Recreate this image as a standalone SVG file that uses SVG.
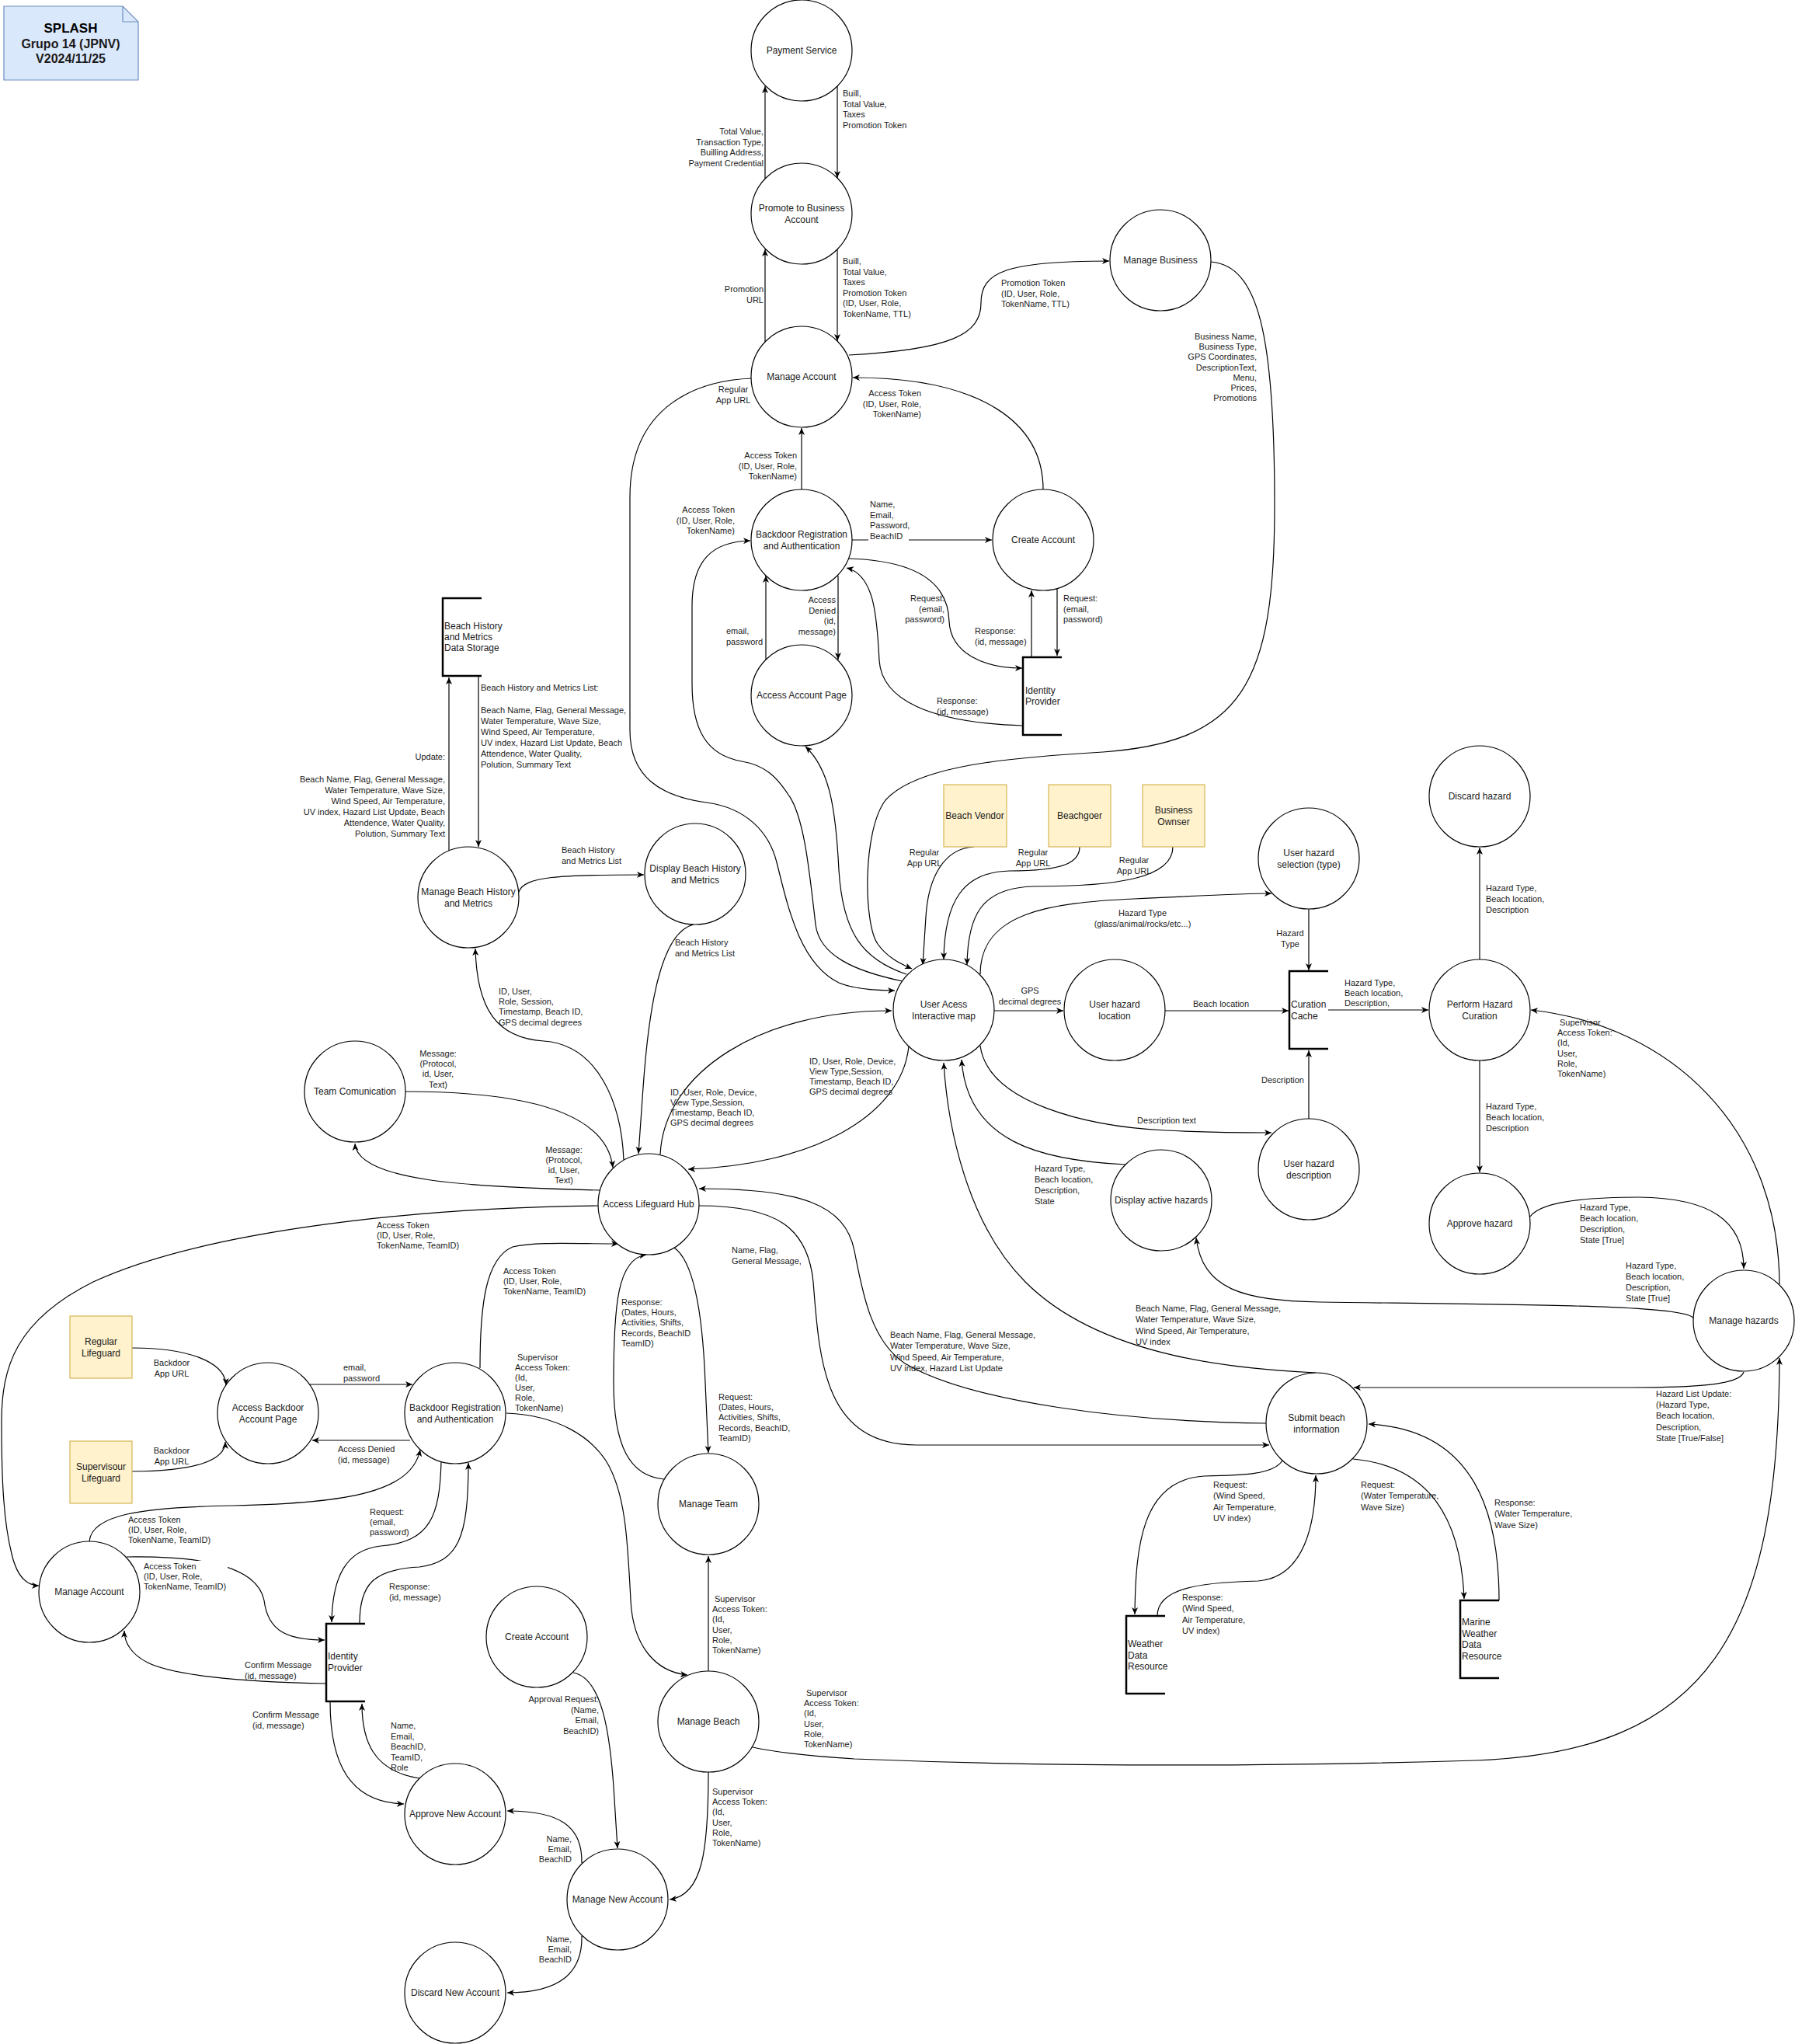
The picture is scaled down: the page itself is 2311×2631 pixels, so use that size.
<svg xmlns="http://www.w3.org/2000/svg" width="2311" height="2631" viewBox="0 0 2311 2631">
<defs>
<marker id="arr" markerWidth="10" markerHeight="10" refX="9" refY="5" orient="auto" markerUnits="userSpaceOnUse"><path d="M0,1 L9,5 L0,9 L2.5,5 z" fill="#000"/></marker>
<style>
.n circle{fill:#fff;stroke:#000;stroke-width:1.2}
.n text,.a text,.s text{font-family:"Liberation Sans",Arial,sans-serif;font-size:12px;fill:#1a1a1a}
.n text{text-anchor:middle}
.a rect{fill:#fff2cc;stroke:#d6b656;stroke-width:1.2}
.a text{text-anchor:middle}
.s path{fill:none;stroke:#000;stroke-width:2.5}
.e path{fill:none;stroke:#000;stroke-width:1.2}
.e path.ar{marker-end:url(#arr)}
.l text{font-family:"Liberation Sans",Arial,sans-serif;font-size:11px;fill:#1a1a1a}
.l text.m{text-anchor:middle}
.l text.r{text-anchor:end}
.bg{fill:#fff}
</style>
</defs>
<rect width="2311" height="2631" fill="#fff"/>

<g id="note">
<path d="M5,8 L158,8 L178,28 L178,103 L5,103 Z" fill="#dae8fc" stroke="#6c8ebf" stroke-width="1.2"/>
<path d="M158,8 L158,28 L178,28" fill="none" stroke="#6c8ebf" stroke-width="1.2"/>
<text x="91" y="42" text-anchor="middle" font-family="Liberation Sans,Arial,sans-serif" font-size="17" font-weight="bold" fill="#000">SPLASH</text>
<text x="91" y="62" text-anchor="middle" font-family="Liberation Sans,Arial,sans-serif" font-size="16" font-weight="bold" fill="#1a1a1a">Grupo 14 (JPNV)</text>
<text x="91" y="81" text-anchor="middle" font-family="Liberation Sans,Arial,sans-serif" font-size="16" font-weight="bold" fill="#1a1a1a">V2024/11/25</text>
</g>

<g id="connectors" class="e">
<path class="ar" d="M985,230 L985,111"/>
<path class="ar" d="M1078,110 L1078,229"/>
<path class="ar" d="M985,440 L985,321"/>
<path class="ar" d="M1078,321 L1078,439"/>
<path class="ar" d="M1093,457 C1225,450 1263,430 1263,390 C1263,350 1295,336 1428,336"/>
<path class="ar" d="M1559,337 C1620,342 1641,430 1641,650 C1641,880 1600,955 1420,968 C1300,975 1180,985 1140,1030 C1110,1070 1112,1190 1130,1215 C1142,1232 1158,1240 1174,1247"/>
<path class="ar" d="M967,487 C900,490 811,520 811,640 L811,940 C811,1000 850,1025 910,1033 C960,1040 990,1070 1000,1110 C1015,1170 1030,1240 1080,1265 C1100,1273 1130,1275 1152,1275"/>
<path class="ar" d="M1167,1254 C1110,1235 1085,1200 1080,1120 C1076,1040 1068,990 1037,961"/>
<path class="ar" d="M1162,1263 C1100,1250 1055,1230 1050,1190 C1042,1120 1035,1050 1015,1023 C1000,1000 985,985 955,980 C910,972 891,940 891,880 L891,780 C891,720 918,697 966,696"/>
<path class="ar" d="M1032,630 L1032,551"/>
<path class="ar" d="M1343,630 C1343,545 1265,486 1098,486"/>
<path class="ar" d="M1097,695 L1277,695"/>
<path class="ar" d="M1079,741 L1079,849"/>
<path class="ar" d="M986,850 L986,741"/>
<path class="ar" d="M1093,719 C1195,722 1221,760 1222,800 C1224,840 1265,860 1316,860"/>
<path class="ar" d="M1317,934 C1195,930 1135,900 1132,850 C1129,790 1125,740 1090,731"/>
<path class="ar" d="M1361,758 L1361,844"/>
<path class="ar" d="M1328,845 L1328,760"/>
<path class="ar" d="M578,1095 L578,872"/>
<path class="ar" d="M616,870 L616,1090"/>
<path class="ar" d="M668,1148 C675,1128 720,1126 829,1126"/>
<path class="ar" d="M893,1190 C850,1200 835,1300 828,1400 L822,1485"/>
<path class="ar" d="M803,1493 C800,1420 770,1345 700,1340 C640,1336 614,1300 612,1221"/>
<path class="ar" d="M1254,1090 C1215,1092 1195,1130 1192,1180 L1188,1242"/>
<path class="ar" d="M1390,1090 C1390,1110 1370,1121 1300,1121 C1240,1122 1216,1160 1215,1235"/>
<path class="ar" d="M1510,1090 C1510,1130 1440,1141 1330,1141 C1262,1143 1246,1180 1245,1242"/>
<path class="ar" d="M1262,1254 C1262,1175 1350,1162 1460,1157 C1540,1153 1600,1150 1637,1150"/>
<path class="ar" d="M1280,1301 L1369,1301"/>
<path class="ar" d="M1500,1301 L1659,1301"/>
<path class="ar" d="M1685,1170 L1685,1249"/>
<path class="ar" d="M1685,1440 L1685,1352"/>
<path class="ar" d="M1262,1346 C1272,1420 1400,1450 1500,1455 C1560,1458 1600,1458 1637,1458"/>
<path class="ar" d="M1450,1499 C1340,1494 1245,1470 1238,1364"/>
<path class="ar" d="M2181,1697 C2170,1680 2000,1680 1700,1676 C1600,1674 1548,1660 1540,1593"/>
<path class="ar" d="M1710,1300 L1839,1300"/>
<path class="ar" d="M1905,1235 L1905,1091"/>
<path class="ar" d="M1905,1365 L1905,1509"/>
<path class="ar" d="M1970,1566 C1985,1545 2050,1541 2110,1541 C2200,1542 2245,1570 2245,1633"/>
<path class="ar" d="M2291,1653 C2290,1450 2150,1320 1971,1300"/>
<path class="ar" d="M2245,1766 C2240,1783 2180,1786 2100,1786 L1743,1786"/>
<path class="ar" d="M969,2249 C1000,2256 1040,2260 1100,2264 C1400,2276 1700,2272 1900,2266 C2200,2255 2290,2100 2291,1748"/>
<path class="ar" d="M1694,1767 C1600,1762 1420,1750 1320,1650 C1245,1575 1220,1450 1215,1368"/>
<path class="ar" d="M1630,1832 C1450,1830 1250,1805 1165,1755 C1120,1725 1110,1660 1100,1610 C1088,1550 1030,1530 900,1530"/>
<path class="ar" d="M900,1552 C1000,1552 1040,1580 1047,1650 C1055,1750 1060,1860 1180,1860 L1634,1860"/>
<path class="ar" d="M1651,1880 C1640,1898 1600,1899 1550,1900 C1470,1905 1462,1990 1461,2078"/>
<path class="ar" d="M1490,2080 C1490,2040 1560,2037 1620,2035 C1680,2030 1694,1960 1694,1899"/>
<path class="ar" d="M1742,1878 C1820,1885 1880,1930 1885,2058"/>
<path class="ar" d="M1930,2060 C1930,1950 1900,1840 1762,1833"/>
<path class="ar" d="M522,1405 C640,1405 780,1420 789,1503"/>
<path class="ar" d="M772,1532 C600,1528 460,1520 457,1472"/>
<path class="ar" d="M1170,1347 C1160,1440 1040,1500 886,1505"/>
<path class="ar" d="M850,1486 C855,1380 980,1300 1148,1301"/>
<path class="ar" d="M770,1552 C500,1555 250,1590 120,1650 C20,1700 2,1760 2,1830 C2,1910 5,1960 15,2000 C22,2030 35,2041 50,2041"/>
<path class="ar" d="M618,1761 C618,1680 625,1620 660,1605 C690,1598 740,1601 796,1601"/>
<path class="ar" d="M868,1606 C895,1625 905,1700 908,1780 L912,1870"/>
<path class="ar" d="M855,1904 C810,1900 790,1860 790,1780 C790,1680 795,1620 832,1615"/>
<path class="ar" d="M912,2151 L912,2003"/>
<path class="ar" d="M652,1819 C720,1822 760,1850 780,1880 C805,1920 808,1980 812,2060 C815,2120 845,2152 885,2156"/>
<path class="ar" d="M912,2281 C912,2380 905,2440 862,2445"/>
<path class="ar" d="M738,2153 C775,2160 785,2230 790,2300 L795,2379"/>
<path class="ar" d="M749,2398 C750,2350 720,2331 653,2331"/>
<path class="ar" d="M749,2492 C750,2540 720,2565 653,2565"/>
<path class="ar" d="M540,2289 C480,2280 466,2240 466,2193"/>
<path class="ar" d="M425,2190 C425,2270 450,2320 520,2322"/>
<path class="ar" d="M420,2167 C300,2165 220,2155 190,2140 C170,2130 160,2115 160,2099"/>
<path class="ar" d="M163,2004 C240,2003 330,2010 340,2060 C345,2100 370,2111 418,2111"/>
<path class="ar" d="M115,1984 C118,1950 180,1940 300,1938 C450,1935 530,1920 541,1866"/>
<path class="ar" d="M568,1882 C566,1950 555,1985 490,1990 C445,1995 428,2030 427,2088"/>
<path class="ar" d="M463,2089 C463,2040 480,2020 540,2017 C590,2010 603,1980 603,1883"/>
<path class="ar" d="M398,1782 L531,1782"/>
<path class="ar" d="M528,1854 L402,1854"/>
<path class="ar" d="M170,1735 C240,1735 290,1752 291,1783"/>
<path class="ar" d="M170,1894 C250,1894 290,1880 290,1856"/>
</g>

<g id="labels" class="l">
<text class="r" x="983" y="173"><tspan x="983">Total Value,</tspan><tspan x="983" dy="13.5">Transaction Type,</tspan><tspan x="983" dy="13.5">Builling Address,</tspan><tspan x="983" dy="13.5">Payment Credential</tspan></text>
<text x="1085" y="124"><tspan x="1085">Buill,</tspan><tspan x="1085" dy="13.5">Total Value,</tspan><tspan x="1085" dy="13.5">Taxes</tspan><tspan x="1085" dy="13.5">Promotion Token</tspan></text>
<text class="r" x="983" y="376"><tspan x="983">Promotion</tspan><tspan x="983" dy="13.5">URL</tspan></text>
<text x="1085" y="340"><tspan x="1085">Buill,</tspan><tspan x="1085" dy="13.5">Total Value,</tspan><tspan x="1085" dy="13.5">Taxes</tspan><tspan x="1085" dy="13.5">Promotion Token</tspan><tspan x="1085" dy="13.5">(ID, User, Role,</tspan><tspan x="1085" dy="13.5">TokenName, TTL)</tspan></text>
<text x="1289" y="368"><tspan x="1289">Promotion Token</tspan><tspan x="1289" dy="13.5">(ID, User, Role,</tspan><tspan x="1289" dy="13.5">TokenName, TTL)</tspan></text>
<text class="r" x="1618" y="437"><tspan x="1618">Business Name,</tspan><tspan x="1618" dy="13.2">Business Type,</tspan><tspan x="1618" dy="13.2">GPS Coordinates,</tspan><tspan x="1618" dy="13.2">DescriptionText,</tspan><tspan x="1618" dy="13.2">Menu,</tspan><tspan x="1618" dy="13.2">Prices,</tspan><tspan x="1618" dy="13.2">Promotions</tspan></text>
<text class="m" x="944" y="505"><tspan x="944">Regular</tspan><tspan x="944" dy="13.5">App URL</tspan></text>
<text class="r" x="1186" y="510"><tspan x="1186">Access Token</tspan><tspan x="1186" dy="13.5">(ID, User, Role,</tspan><tspan x="1186" dy="13.5">TokenName)</tspan></text>
<text class="r" x="1026" y="590"><tspan x="1026">Access Token</tspan><tspan x="1026" dy="13.5">(ID, User, Role,</tspan><tspan x="1026" dy="13.5">TokenName)</tspan></text>
<text class="r" x="946" y="660"><tspan x="946">Access Token</tspan><tspan x="946" dy="13.5">(ID, User, Role,</tspan><tspan x="946" dy="13.5">TokenName)</tspan></text>
<rect class="bg" x="1118" y="642" width="52" height="56"/>
<text x="1120" y="653"><tspan x="1120">Name,</tspan><tspan x="1120" dy="13.5">Email,</tspan><tspan x="1120" dy="13.5">Password,</tspan><tspan x="1120" dy="13.5">BeachID</tspan></text>
<text class="r" x="1076" y="776"><tspan x="1076">Access</tspan><tspan x="1076" dy="13.5">Denied</tspan><tspan x="1076" dy="13.5">(id,</tspan><tspan x="1076" dy="13.5">message)</tspan></text>
<text x="935" y="816"><tspan x="935">email,</tspan><tspan x="935" dy="13.5">password</tspan></text>
<text class="r" x="1216" y="774"><tspan x="1216">Request:</tspan><tspan x="1216" dy="13.5">(email,</tspan><tspan x="1216" dy="13.5">password)</tspan></text>
<text x="1206" y="906"><tspan x="1206">Response:</tspan><tspan x="1206" dy="13.5">(id, message)</tspan></text>
<text x="1369" y="774"><tspan x="1369">Request:</tspan><tspan x="1369" dy="13.5">(email,</tspan><tspan x="1369" dy="13.5">password)</tspan></text>
<text x="1255" y="816"><tspan x="1255">Response:</tspan><tspan x="1255" dy="13.5">(id, message)</tspan></text>
<text class="r" x="573" y="978">Update:</text>
<text class="r" x="573" y="1007"><tspan x="573">Beach Name, Flag, General Message,</tspan><tspan x="573" dy="14">Water Temperature, Wave Size,</tspan><tspan x="573" dy="14">Wind Speed, Air Temperature,</tspan><tspan x="573" dy="14">UV index, Hazard List Update, Beach</tspan><tspan x="573" dy="14">Attendence, Water Quality,</tspan><tspan x="573" dy="14">Polution, Summary Text</tspan></text>
<text x="619" y="889"><tspan x="619">Beach History and Metrics List:</tspan><tspan x="619" dy="29">Beach Name, Flag, General Message,</tspan><tspan x="619" dy="14">Water Temperature, Wave Size,</tspan><tspan x="619" dy="14">Wind Speed, Air Temperature,</tspan><tspan x="619" dy="14">UV index, Hazard List Update, Beach</tspan><tspan x="619" dy="14">Attendence, Water Quality,</tspan><tspan x="619" dy="14">Polution, Summary Text</tspan></text>
<text x="723" y="1098"><tspan x="723">Beach History</tspan><tspan x="723" dy="14">and Metrics List</tspan></text>
<text x="869" y="1217"><tspan x="869">Beach History</tspan><tspan x="869" dy="14">and Metrics List</tspan></text>
<text x="642" y="1280"><tspan x="642">ID, User,</tspan><tspan x="642" dy="13.2">Role, Session,</tspan><tspan x="642" dy="13.2">Timestamp, Beach ID,</tspan><tspan x="642" dy="13.2">GPS decimal degrees</tspan></text>
<text class="m" x="1190" y="1101"><tspan x="1190">Regular</tspan><tspan x="1190" dy="14">App URL</tspan></text>
<text class="m" x="1330" y="1101"><tspan x="1330">Regular</tspan><tspan x="1330" dy="14">App URL</tspan></text>
<text class="m" x="1460" y="1111"><tspan x="1460">Regular</tspan><tspan x="1460" dy="14">App URL</tspan></text>
<text class="m" x="1471" y="1179"><tspan x="1471">Hazard Type</tspan><tspan x="1471" dy="14">(glass/animal/rocks/etc...)</tspan></text>
<text class="m" x="1326" y="1279"><tspan x="1326">GPS</tspan><tspan x="1326" dy="14">decimal degrees</tspan></text>
<text class="m" x="1572" y="1296">Beach location</text>
<text class="m" x="1661" y="1205"><tspan x="1661">Hazard</tspan><tspan x="1661" dy="14">Type</tspan></text>
<text class="r" x="1679" y="1394">Description</text>
<text class="m" x="1502" y="1446">Description text</text>
<text x="1332" y="1508"><tspan x="1332">Hazard Type,</tspan><tspan x="1332" dy="14">Beach location,</tspan><tspan x="1332" dy="14">Description,</tspan><tspan x="1332" dy="14">State</tspan></text>
<text x="1731" y="1269"><tspan x="1731">Hazard Type,</tspan><tspan x="1731" dy="13">Beach location,</tspan><tspan x="1731" dy="13">Description,</tspan></text>
<text x="1913" y="1147"><tspan x="1913">Hazard Type,</tspan><tspan x="1913" dy="14">Beach location,</tspan><tspan x="1913" dy="14">Description</tspan></text>
<text x="1913" y="1428"><tspan x="1913">Hazard Type,</tspan><tspan x="1913" dy="14">Beach location,</tspan><tspan x="1913" dy="14">Description</tspan></text>
<text x="2034" y="1558"><tspan x="2034">Hazard Type,</tspan><tspan x="2034" dy="14">Beach location,</tspan><tspan x="2034" dy="14">Description,</tspan><tspan x="2034" dy="14">State [True]</tspan></text>
<text x="2093" y="1633"><tspan x="2093">Hazard Type,</tspan><tspan x="2093" dy="14">Beach location,</tspan><tspan x="2093" dy="14">Description,</tspan><tspan x="2093" dy="14">State [True]</tspan></text>
<text x="2005" y="1320"><tspan x="2008">Supervisor</tspan><tspan x="2005" dy="13.2">Access Token:</tspan><tspan x="2005" dy="13.2">(Id,</tspan><tspan x="2005" dy="13.2">User,</tspan><tspan x="2005" dy="13.2">Role,</tspan><tspan x="2005" dy="13.2">TokenName)</tspan></text>
<rect class="bg" x="2130" y="1788" width="100" height="72"/>
<text x="2132" y="1798"><tspan x="2132">Hazard List Update:</tspan><tspan x="2132" dy="14.2">(Hazard Type,</tspan><tspan x="2132" dy="14.2">Beach location,</tspan><tspan x="2132" dy="14.2">Description,</tspan><tspan x="2132" dy="14.2">State [True/False]</tspan></text>
<text x="1035" y="2183"><tspan x="1038">Supervisor</tspan><tspan x="1035" dy="13.2">Access Token:</tspan><tspan x="1035" dy="13.2">(Id,</tspan><tspan x="1035" dy="13.2">User,</tspan><tspan x="1035" dy="13.2">Role,</tspan><tspan x="1035" dy="13.2">TokenName)</tspan></text>
<text x="1462" y="1688"><tspan x="1462">Beach Name, Flag, General Message,</tspan><tspan x="1462" dy="14.3">Water Temperature, Wave Size,</tspan><tspan x="1462" dy="14.3">Wind Speed, Air Temperature,</tspan><tspan x="1462" dy="14.3">UV index</tspan></text>
<text x="1146" y="1722"><tspan x="1146">Beach Name, Flag, General Message,</tspan><tspan x="1146" dy="14.3">Water Temperature, Wave Size,</tspan><tspan x="1146" dy="14.3">Wind Speed, Air Temperature,</tspan><tspan x="1146" dy="14.3">UV index, Hazard List Update</tspan></text>
<text x="942" y="1613"><tspan x="942">Name, Flag,</tspan><tspan x="942" dy="14">General Message,</tspan></text>
<text x="1562" y="1915"><tspan x="1562">Request:</tspan><tspan x="1562" dy="14.3">(Wind Speed,</tspan><tspan x="1562" dy="14.3">Air Temperature,</tspan><tspan x="1562" dy="14.3">UV index)</tspan></text>
<text x="1522" y="2060"><tspan x="1522">Response:</tspan><tspan x="1522" dy="14.3">(Wind Speed,</tspan><tspan x="1522" dy="14.3">Air Temperature,</tspan><tspan x="1522" dy="14.3">UV index)</tspan></text>
<text x="1752" y="1915"><tspan x="1752">Request:</tspan><tspan x="1752" dy="14.3">(Water Temperature,</tspan><tspan x="1752" dy="14.3">Wave Size)</tspan></text>
<text x="1924" y="1938"><tspan x="1924">Response:</tspan><tspan x="1924" dy="14.3">(Water Temperature,</tspan><tspan x="1924" dy="14.3">Wave Size)</tspan></text>
<text class="m" x="564" y="1360"><tspan x="564">Message:</tspan><tspan x="564" dy="13.2">(Protocol,</tspan><tspan x="564" dy="13.2">id, User,</tspan><tspan x="564" dy="13.2">Text)</tspan></text>
<text class="m" x="726" y="1484"><tspan x="726">Message:</tspan><tspan x="726" dy="13">(Protocol,</tspan><tspan x="726" dy="13">id, User,</tspan><tspan x="726" dy="13">Text)</tspan></text>
<text x="1042" y="1370"><tspan x="1042">ID, User, Role, Device,</tspan><tspan x="1042" dy="13">View Type,Session,</tspan><tspan x="1042" dy="13">Timestamp, Beach ID,</tspan><tspan x="1042" dy="13">GPS decimal degrees</tspan></text>
<text x="863" y="1410"><tspan x="863">ID, User, Role, Device,</tspan><tspan x="863" dy="13">View Type,Session,</tspan><tspan x="863" dy="13">Timestamp, Beach ID,</tspan><tspan x="863" dy="13">GPS decimal degrees</tspan></text>
<text x="485" y="1581"><tspan x="485">Access Token</tspan><tspan x="485" dy="12.8">(ID, User, Role,</tspan><tspan x="485" dy="12.8">TokenName, TeamID)</tspan></text>
<text x="648" y="1640"><tspan x="648">Access Token</tspan><tspan x="648" dy="13">(ID, User, Role,</tspan><tspan x="648" dy="13">TokenName, TeamID)</tspan></text>
<text x="925" y="1802"><tspan x="925">Request:</tspan><tspan x="925" dy="13.2">(Dates, Hours,</tspan><tspan x="925" dy="13.2">Activities, Shifts,</tspan><tspan x="925" dy="13.2">Records, BeachID,</tspan><tspan x="925" dy="13.2">TeamID)</tspan></text>
<text x="800" y="1680"><tspan x="800">Response:</tspan><tspan x="800" dy="13.2">(Dates, Hours,</tspan><tspan x="800" dy="13.2">Activities, Shifts,</tspan><tspan x="800" dy="13.2">Records, BeachID</tspan><tspan x="800" dy="13.2">TeamID)</tspan></text>
<text x="917" y="2062"><tspan x="920">Supervisor</tspan><tspan x="917" dy="13.2">Access Token:</tspan><tspan x="917" dy="13.2">(Id,</tspan><tspan x="917" dy="13.2">User,</tspan><tspan x="917" dy="13.2">Role,</tspan><tspan x="917" dy="13.2">TokenName)</tspan></text>
<text x="663" y="1751"><tspan x="666">Supervisor</tspan><tspan x="663" dy="13">Access Token:</tspan><tspan x="663" dy="13">(Id,</tspan><tspan x="663" dy="13">User,</tspan><tspan x="663" dy="13">Role,</tspan><tspan x="663" dy="13">TokenName)</tspan></text>
<text x="917" y="2310"><tspan x="917">Supervisor</tspan><tspan x="917" dy="13.2">Access Token:</tspan><tspan x="917" dy="13.2">(Id,</tspan><tspan x="917" dy="13.2">User,</tspan><tspan x="917" dy="13.2">Role,</tspan><tspan x="917" dy="13.2">TokenName)</tspan></text>
<text class="r" x="771" y="2191"><tspan x="771">Approval Request:</tspan><tspan x="771" dy="13.5">(Name,</tspan><tspan x="771" dy="13.5">Email,</tspan><tspan x="771" dy="13.5">BeachID)</tspan></text>
<text class="r" x="736" y="2371"><tspan x="736">Name,</tspan><tspan x="736" dy="13">Email,</tspan><tspan x="736" dy="13">BeachID</tspan></text>
<text class="r" x="736" y="2500"><tspan x="736">Name,</tspan><tspan x="736" dy="13">Email,</tspan><tspan x="736" dy="13">BeachID</tspan></text>
<text x="503" y="2225"><tspan x="503">Name,</tspan><tspan x="503" dy="13.6">Email,</tspan><tspan x="503" dy="13.6">BeachID,</tspan><tspan x="503" dy="13.6">TeamID,</tspan><tspan x="503" dy="13.6">Role</tspan></text>
<text x="325" y="2211"><tspan x="325">Confirm Message</tspan><tspan x="325" dy="14">(id, message)</tspan></text>
<text x="315" y="2147"><tspan x="315">Confirm Message</tspan><tspan x="315" dy="14">(id, message)</tspan></text>
<rect class="bg" x="183" y="2009" width="110" height="41"/>
<text x="185" y="2020"><tspan x="185">Access Token</tspan><tspan x="185" dy="13">(ID, User, Role,</tspan><tspan x="185" dy="13">TokenName, TeamID)</tspan></text>
<text x="165" y="1960"><tspan x="165">Access Token</tspan><tspan x="165" dy="13">(ID, User, Role,</tspan><tspan x="165" dy="13">TokenName, TeamID)</tspan></text>
<text x="476" y="1950"><tspan x="476">Request:</tspan><tspan x="476" dy="13">(email,</tspan><tspan x="476" dy="13">password)</tspan></text>
<text x="501" y="2046"><tspan x="501">Response:</tspan><tspan x="501" dy="14">(id, message)</tspan></text>
<text x="442" y="1764"><tspan x="442">email,</tspan><tspan x="442" dy="13.5">password</tspan></text>
<text x="435" y="1869"><tspan x="435">Access Denied</tspan><tspan x="435" dy="14">(id, message)</tspan></text>
<text class="m" x="221" y="1758"><tspan x="221">Backdoor</tspan><tspan x="221" dy="14">App URL</tspan></text>
<text class="m" x="221" y="1871"><tspan x="221">Backdoor</tspan><tspan x="221" dy="14">App URL</tspan></text>
</g>

<g id="stores" class="s">
<g id="s-idp-top"><path d="M1367,846 L1317,846 L1317,946 L1367,946"/><text x="1320" y="893"><tspan x="1320">Identity</tspan><tspan x="1320" dy="14">Provider</tspan></text></g>
<g id="s-beach-history"><path d="M620,770 L570,770 L570,870 L620,870"/><text x="572" y="810"><tspan x="572">Beach History</tspan><tspan x="572" dy="14">and Metrics</tspan><tspan x="572" dy="14">Data Storage</tspan></text></g>
<g id="s-curation"><path d="M1710,1250 L1660,1250 L1660,1350 L1710,1350"/><text x="1662" y="1297"><tspan x="1662">Curation</tspan><tspan x="1662" dy="15">Cache</tspan></text></g>
<g id="s-idp-bottom"><path d="M470,2090 L420,2090 L420,2190 L470,2190"/><text x="422" y="2136"><tspan x="422">Identity</tspan><tspan x="422" dy="15">Provider</tspan></text></g>
<g id="s-weather"><path d="M1500,2080 L1450,2080 L1450,2180 L1500,2180"/><text x="1452" y="2120"><tspan x="1452">Weather</tspan><tspan x="1452" dy="14.5">Data</tspan><tspan x="1452" dy="14.5">Resource</tspan></text></g>
<g id="s-marine"><path d="M1930,2060 L1880,2060 L1880,2160 L1930,2160"/><text x="1882" y="2092"><tspan x="1882">Marine</tspan><tspan x="1882" dy="14.5">Weather</tspan><tspan x="1882" dy="14.5">Data</tspan><tspan x="1882" dy="14.5">Resource</tspan></text></g>
</g>

<g id="actors" class="a">
<g id="a-vendor"><rect x="1215" y="1010" width="81" height="80"/><text x="1255" y="1054">Beach Vendor</text></g>
<g id="a-beachgoer"><rect x="1350" y="1010" width="80" height="80"/><text x="1390" y="1054">Beachgoer</text></g>
<g id="a-owner"><rect x="1471" y="1010" width="80" height="80"/><text x="1511" y="1047"><tspan x="1511">Business</tspan><tspan x="1511" dy="15">Ownser</tspan></text></g>
<g id="a-regular"><rect x="90" y="1694" width="80" height="80"/><text x="130" y="1731"><tspan x="130">Regular</tspan><tspan x="130" dy="15">Lifeguard</tspan></text></g>
<g id="a-supervisour"><rect x="90" y="1855" width="80" height="80"/><text x="130" y="1892"><tspan x="130">Supervisour</tspan><tspan x="130" dy="15">Lifeguard</tspan></text></g>
</g>

<g id="nodes" class="n">
<g id="n-payment"><circle cx="1032" cy="65" r="65"/><text x="1032" y="69">Payment Service</text></g>
<g id="n-promote"><circle cx="1032" cy="275" r="65"/><text x="1032" y="272"><tspan x="1032">Promote to Business</tspan><tspan x="1032" dy="15">Account</tspan></text></g>
<g id="n-manage-business"><circle cx="1494" cy="335" r="65"/><text x="1494" y="339">Manage Business</text></g>
<g id="n-manage-account-top"><circle cx="1032" cy="485" r="65"/><text x="1032" y="489">Manage Account</text></g>
<g id="n-backdoor-top"><circle cx="1032" cy="695" r="65"/><text x="1032" y="692"><tspan x="1032">Backdoor Registration</tspan><tspan x="1032" dy="15">and Authentication</tspan></text></g>
<g id="n-create-top"><circle cx="1343" cy="695" r="65"/><text x="1343" y="699">Create Account</text></g>
<g id="n-access-page"><circle cx="1032" cy="895" r="65"/><text x="1032" y="899">Access Account Page</text></g>
<g id="n-manage-bh"><circle cx="603" cy="1155" r="65"/><text x="603" y="1152"><tspan x="603">Manage Beach History</tspan><tspan x="603" dy="15">and Metrics</tspan></text></g>
<g id="n-display-bh"><circle cx="895" cy="1125" r="65"/><text x="895" y="1122"><tspan x="895">Display Beach History</tspan><tspan x="895" dy="15">and Metrics</tspan></text></g>
<g id="n-hazard-selection"><circle cx="1685" cy="1105" r="65"/><text x="1685" y="1102"><tspan x="1685">User hazard</tspan><tspan x="1685" dy="15">selection (type)</tspan></text></g>
<g id="n-discard-hazard"><circle cx="1905" cy="1025" r="65"/><text x="1905" y="1029">Discard hazard</text></g>
<g id="n-user-map"><circle cx="1215" cy="1300" r="65"/><text x="1215" y="1297"><tspan x="1215">User Acess</tspan><tspan x="1215" dy="15">Interactive map</tspan></text></g>
<g id="n-hazard-location"><circle cx="1435" cy="1300" r="65"/><text x="1435" y="1297"><tspan x="1435">User hazard</tspan><tspan x="1435" dy="15">location</tspan></text></g>
<g id="n-perform-curation"><circle cx="1905" cy="1300" r="65"/><text x="1905" y="1297"><tspan x="1905">Perform Hazard</tspan><tspan x="1905" dy="15">Curation</tspan></text></g>
<g id="n-team-com"><circle cx="457" cy="1405" r="65"/><text x="457" y="1409">Team Comunication</text></g>
<g id="n-hazard-description"><circle cx="1685" cy="1505" r="65"/><text x="1685" y="1502"><tspan x="1685">User hazard</tspan><tspan x="1685" dy="15">description</tspan></text></g>
<g id="n-display-hazards"><circle cx="1495" cy="1545" r="65"/><text x="1495" y="1549">Display active hazards</text></g>
<g id="n-approve-hazard"><circle cx="1905" cy="1575" r="65"/><text x="1905" y="1579">Approve hazard</text></g>
<g id="n-lifeguard-hub"><circle cx="835" cy="1550" r="65"/><text x="835" y="1554">Access Lifeguard Hub</text></g>
<g id="n-manage-hazards"><circle cx="2245" cy="1700" r="65"/><text x="2245" y="1704">Manage hazards</text></g>
<g id="n-access-backdoor"><circle cx="345" cy="1819" r="65"/><text x="345" y="1816"><tspan x="345">Access Backdoor</tspan><tspan x="345" dy="15">Account Page</tspan></text></g>
<g id="n-backdoor-bottom"><circle cx="586" cy="1819" r="65"/><text x="586" y="1816"><tspan x="586">Backdoor Registration</tspan><tspan x="586" dy="15">and Authentication</tspan></text></g>
<g id="n-submit-beach"><circle cx="1695" cy="1832" r="65"/><text x="1695" y="1829"><tspan x="1695">Submit beach</tspan><tspan x="1695" dy="15">information</tspan></text></g>
<g id="n-manage-team"><circle cx="912" cy="1936" r="65"/><text x="912" y="1940">Manage Team</text></g>
<g id="n-manage-account-bottom"><circle cx="115" cy="2049" r="65"/><text x="115" y="2053">Manage Account</text></g>
<g id="n-create-bottom"><circle cx="691" cy="2107" r="65"/><text x="691" y="2111">Create Account</text></g>
<g id="n-manage-beach"><circle cx="912" cy="2216" r="65"/><text x="912" y="2220">Manage Beach</text></g>
<g id="n-approve-new"><circle cx="586" cy="2335" r="65"/><text x="586" y="2339">Approve New Account</text></g>
<g id="n-manage-new"><circle cx="795" cy="2445" r="65"/><text x="795" y="2449">Manage New Account</text></g>
<g id="n-discard-new"><circle cx="586" cy="2565" r="65"/><text x="586" y="2569">Discard New Account</text></g>
</g>
</svg>
